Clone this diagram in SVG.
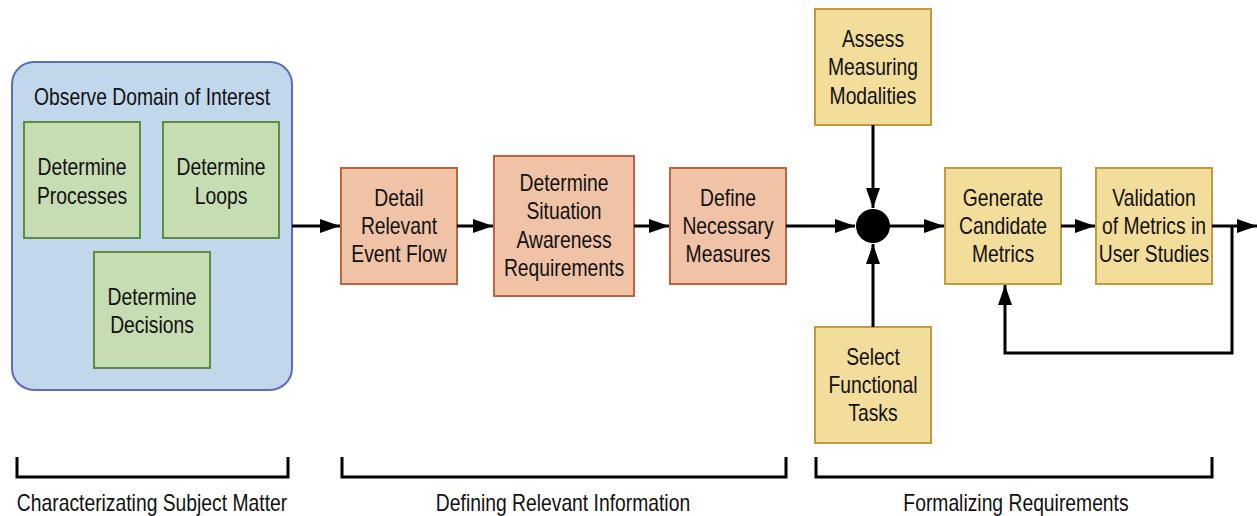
<svg xmlns="http://www.w3.org/2000/svg" width="1257" height="516" viewBox="0 0 1257 516">
<defs>
<style>
text{font-family:"Liberation Sans",Arial,sans-serif;font-size:23px;fill:#111;text-anchor:middle;dominant-baseline:central;transform-box:fill-box;transform-origin:center;transform:scaleX(0.84)}
.g{fill:#c6dcb2;stroke:#5e8d3f;stroke-width:2}
.o{fill:#f0c3a7;stroke:#c0643d;stroke-width:2}
.y{fill:#f3dd9b;stroke:#c49a3e;stroke-width:2}
.c{fill:none;stroke:#000;stroke-width:3}
</style>
<marker id="a" viewBox="0 0 20 14" refX="20" refY="7" markerWidth="20" markerHeight="14" markerUnits="userSpaceOnUse" orient="auto">
<path d="M0,0 L20,7 L0,14 z" fill="#000"/>
</marker>
</defs>
<g id="container">
<rect x="12" y="62" width="280" height="328" rx="22" fill="#c1d7ec" stroke="#5f6bbd" stroke-width="2"/>
<text x="152" y="97">Observe Domain of Interest</text>
</g>
<g id="n-processes"><rect class="g" x="24" y="122" width="116" height="116"/><text x="82" y="167">Determine</text><text x="82" y="196">Processes</text></g>
<g id="n-loops"><rect class="g" x="163" y="122" width="116" height="116"/><text x="221" y="167">Determine</text><text x="221" y="196">Loops</text></g>
<g id="n-decisions"><rect class="g" x="94" y="252" width="116" height="116"/><text x="152" y="297">Determine</text><text x="152" y="325">Decisions</text></g>
<g id="n-eventflow"><rect class="o" x="341" y="168" width="116" height="116"/><text x="399" y="198">Detail</text><text x="399" y="226">Relevant</text><text x="399" y="254">Event Flow</text></g>
<g id="n-sareq"><rect class="o" x="494" y="156" width="140" height="140"/><text x="564" y="183">Determine</text><text x="564" y="211">Situation</text><text x="564" y="240">Awareness</text><text x="564" y="268">Requirements</text></g>
<g id="n-measures"><rect class="o" x="670" y="168" width="116" height="116"/><text x="728" y="198">Define</text><text x="728" y="226">Necessary</text><text x="728" y="254">Measures</text></g>
<g id="n-assess"><rect class="y" x="815" y="9" width="116" height="116"/><text x="873" y="39">Assess</text><text x="873" y="67">Measuring</text><text x="873" y="96">Modalities</text></g>
<g id="n-select"><rect class="y" x="815" y="327" width="116" height="116"/><text x="873" y="357">Select</text><text x="873" y="385">Functional</text><text x="873" y="413">Tasks</text></g>
<g id="n-generate"><rect class="y" x="945" y="168" width="116" height="116"/><text x="1003" y="198">Generate</text><text x="1003" y="226">Candidate</text><text x="1003" y="254">Metrics</text></g>
<g id="n-validation"><rect class="y" x="1096" y="168" width="116" height="116"/><text x="1154" y="198">Validation</text><text x="1154" y="226">of Metrics in</text><text x="1154" y="254">User Studies</text></g>
<g id="n-junction"><circle cx="873" cy="226" r="17" fill="#000"/></g>
<g id="connectors">
<path class="c" d="M292,226 H340" marker-end="url(#a)"/>
<path class="c" d="M457,226 H493" marker-end="url(#a)"/>
<path class="c" d="M634,226 H669" marker-end="url(#a)"/>
<path class="c" d="M786,226 H855" marker-end="url(#a)"/>
<path class="c" d="M873,125 V208" marker-end="url(#a)"/>
<path class="c" d="M873,327 V244" marker-end="url(#a)"/>
<path class="c" d="M890,226 H944" marker-end="url(#a)"/>
<path class="c" d="M1061,226 H1095" marker-end="url(#a)"/>
<path class="c" d="M1212,226 H1257" marker-end="url(#a)"/>
<path class="c" d="M1232,226 V353 H1005 V285" marker-end="url(#a)"/>
</g>
<g id="brackets">
<path class="c" d="M17,457 V477 H288 V457"/>
<path class="c" d="M342,457 V477 H786 V457"/>
<path class="c" d="M816,457 V477 H1212 V457"/>
<text x="152" y="503">Characterizating Subject Matter</text>
<text x="563" y="503">Defining Relevant Information</text>
<text x="1016" y="503">Formalizing Requirements</text>
</g>
</svg>
